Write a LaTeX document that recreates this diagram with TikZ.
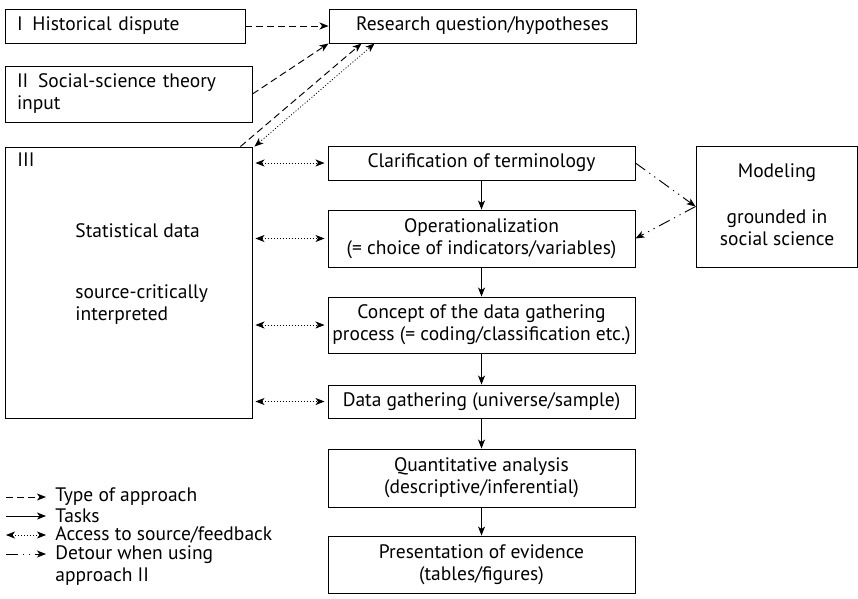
\documentclass[tikz,border=0pt]{standalone}
\usepackage{fontspec}
\setmainfont{PT Sans}
\usetikzlibrary{arrows.meta}

\begin{document}
\begin{tikzpicture}[x=1pt,y=-1pt,line width=0.95pt,
      every node/.style={font=\fontsize{19.5}{22}\selectfont,inner sep=0pt},
      >={Stealth[length=9pt,width=7pt,inset=2.5pt]},
      box/.style={draw,align=center},
      appr/.style={->,dash pattern=on 7pt off 4pt},
      task/.style={->},
      access/.style={<->,dash pattern=on 1pt off 2pt,line width=0.8pt},
      detour/.style={->,dash pattern=on 12pt off 5pt on 1.2pt off 5pt on 1.2pt off 5pt}]
      \useasboundingbox (0,0) rectangle (858,598);
      % left column
      \node[box,minimum width=240pt,minimum height=34pt,align=left,text width=216pt](hist)at(125,26){I\enspace Historical dispute};
      \node[box,minimum width=247pt,minimum height=56pt,align=left,text width=223pt](soc)at(128.5,94){II\enspace Social-science theory\\input};
      \node[box,minimum width=247pt,minimum height=271pt](stat)at(128.5,282.5){};
      \node[anchor=north west](statno)at(17,152){III};
      \node[anchor=west](statdata)at(75,231){Statistical data};
      \node[anchor=north west,align=left](statsrc)at(75,284){source-critically\\interpreted};
      % task column
      \node[box,minimum width=307pt,minimum height=34pt](res)at(482.5,26){Research question/hypotheses};
      \node[box,minimum width=307pt,minimum height=34pt](clar)at(481.5,163){Clarification of terminology};
      \node[box,minimum width=307pt,minimum height=57pt](oper)at(481.5,238.5){Operationalization\\(= choice of indicators/variables)};
      \node[box,minimum width=307pt,minimum height=56pt](conc)at(481.5,325){Concept of the data gathering\\process (= coding/classification etc.)};
      \node[box,minimum width=307pt,minimum height=33pt](gath)at(481.5,401.5){Data gathering (universe/sample)};
      \node[box,minimum width=307pt,minimum height=58pt](quant)at(481.5,478){Quantitative analysis\\(descriptive/inferential)};
      \node[box,minimum width=307pt,minimum height=57pt](pres)at(481.5,564.5){Presentation of evidence\\(tables/figures)};
      % modeling
      \node[box,minimum width=161pt,minimum height=121pt](model)at(776.5,206.5){};
      \node(modtitle)at(777,173){Modeling};
      \node[align=center](modsub)at(777,228){grounded in\\social science};
      % approaches
      \draw[appr](hist)--(res);
      \draw[appr](soc.east)--(res.south west);
      \draw[appr]([xshift=-12pt]stat.north east)--([xshift=33pt]res.south west);
      \draw[access]([xshift=2pt]stat.north east)--([xshift=46pt]res.south west);
      % tasks
      \draw[task](clar)--(oper);
      \draw[task](oper)--(conc);
      \draw[task](conc)--(gath);
      \draw[task](gath)--(quant);
      \draw[task](quant)--(pres);
      % access to source
      \foreach \t in {clar,oper,conc,gath}
        \draw[access]([xshift=3pt]stat.east|-\t.west)--([xshift=-3pt]\t.west);
      % detour
      \draw[detour](clar.east)--(model.west);
      \draw[detour](model.west)--(oper.east);
      % legend
      \foreach \s/\y/\n in {appr/497/lgappr,task/516/lgtask,access/535/lgacc,detour/554/lgdet}{
        \coordinate(\n a)at(6,\y);
        \coordinate(\n b)at(46,\y);
        \draw[\s](\n a)--(\n b);}
      \node[anchor=west](lgapprt)at(55,497){Type of approach};
      \node[anchor=west](lgtaskt)at(55,516){Tasks};
      \node[anchor=west](lgacct)at(55,535){Access to source/feedback};
      \node[anchor=north west,align=left](lgdett)at(55,545){Detour when using\\approach II};
\end{tikzpicture}
\end{document}
